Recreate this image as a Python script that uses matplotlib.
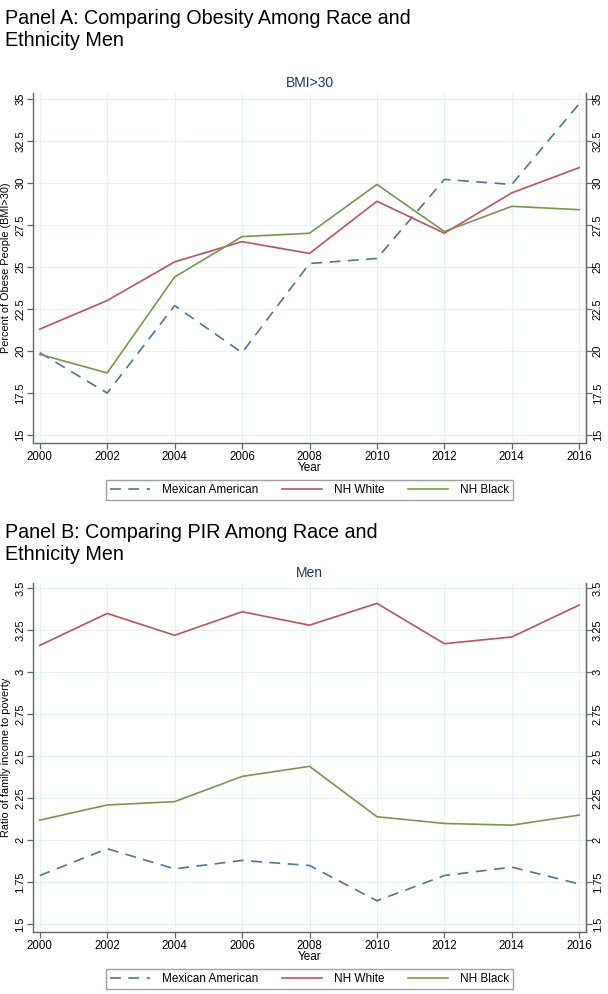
import matplotlib
matplotlib.use("Agg")
import matplotlib.pyplot as plt

plt.rcParams['font.family'] = ['Liberation Sans', 'DejaVu Sans']

years = [2000, 2002, 2004, 2006, 2008, 2010, 2012, 2014, 2016]
series_names = ["Mexican American", "NH White", "NH Black"]

# Panel A: percent obese (BMI>30)
bmi_mexican = [19.9, 17.5, 22.7, 19.9, 25.2, 25.5, 30.2, 29.9, 34.7]
bmi_white = [21.3, 23.0, 25.3, 26.5, 25.8, 28.9, 27.0, 29.4, 30.9]
bmi_black = [19.8, 18.7, 24.4, 26.8, 27.0, 29.9, 27.1, 28.6, 28.4]

# Panel B: ratio of family income to poverty
pir_mexican = [1.79, 1.95, 1.83, 1.88, 1.85, 1.64, 1.79, 1.84, 1.74]
pir_white = [3.16, 3.35, 3.22, 3.36, 3.28, 3.41, 3.17, 3.21, 3.40]
pir_black = [2.12, 2.21, 2.23, 2.38, 2.44, 2.14, 2.10, 2.09, 2.15]

bmi_ticks = [15, 17.5, 20, 22.5, 25, 27.5, 30, 32.5, 35]
bmi_ticklabels = ["15", "17.5", "20", "22.5", "25", "27.5", "30", "32.5", "35"]
pir_ticks = [1.5, 1.75, 2, 2.25, 2.5, 2.75, 3, 3.25, 3.5]
pir_ticklabels = ["1.5", "1.75", "2", "2.25", "2.5", "2.75", "3", "3.25", "3.5"]

colors = ["#4f739c", "#c0525c", "#76984a"]
styles = [(0, (6.5, 4.5)), "-", "-"]
grid_col = "#e8f1f4"
axis_col = "#666666"

fig = plt.figure(figsize=(6.08, 9.94), dpi=100)


def panel(rect, series, ticks, ticklabels, ylim, ylabel, subtitle, leg_y):
    ax = fig.add_axes(rect)
    for vals, name, c, ls in zip(series, series_names, colors, styles):
        ax.plot(years, vals, color=c, linestyle=ls, linewidth=1.2, label=name)
    ax.set_xlim(1999.8, 2016.2)
    ax.set_ylim(*ylim)
    ax.set_xticks(years)
    ax.set_yticks(ticks)
    ax.set_yticklabels(ticklabels, rotation=90, va="center")
    ax.grid(True, color=grid_col, linewidth=0.8)
    ax.set_axisbelow(True)
    ax.spines["top"].set_visible(False)
    for s in ["left", "right", "bottom"]:
        ax.spines[s].set_color(axis_col)
        ax.spines[s].set_linewidth(1.0)
    ax.tick_params(axis="x", labelsize=8.3, color=axis_col, length=4,
                   width=0.9, pad=2)
    ax.tick_params(axis="y", labelsize=8.0, color=axis_col, length=4,
                   width=0.9, pad=1.5)
    # right-hand copy of the y axis
    ax2 = ax.secondary_yaxis("right")
    ax2.set_yticks(ticks)
    ax2.set_yticklabels(ticklabels, rotation=90, va="center", fontsize=8.0)
    ax2.tick_params(color=axis_col, length=4, width=0.9, pad=1)
    ax2.spines["right"].set_color(axis_col)
    ax.set_ylabel(ylabel, fontsize=7.8)
    ax.yaxis.set_label_coords(-0.039, 0.5)
    ax.set_xlabel("Year", fontsize=8.5, labelpad=-1)
    ax.set_title(subtitle, fontsize=10, color="#1a3a60", pad=4)
    leg = ax.legend(loc="center", bbox_to_anchor=(0.5, leg_y), ncol=3,
                    fontsize=8.5, frameon=True, fancybox=False,
                    handlelength=3.4, columnspacing=2.0, borderpad=0.35,
                    handletextpad=1.0)
    leg.get_frame().set_edgecolor("#888888")
    leg.get_frame().set_linewidth(1.0)
    return ax


panel([0.0543, 0.5546, 0.9095, 0.3521],
      [bmi_mexican, bmi_white, bmi_black], bmi_ticks, bmi_ticklabels,
      (14.55, 35.35), "Percent of Obese People (BMI>30)", "BMI>30", -0.135)

panel([0.0543, 0.0627, 0.9095, 0.3511],
      [pir_mexican, pir_white, pir_black], pir_ticks, pir_ticklabels,
      (1.456, 3.533), "Ratio of family income to poverty", "Men", -0.135)

fig.text(0.008, 0.991, "Panel A: Comparing Obesity Among Race and\nEthnicity Men",
         fontsize=14.2, va="top", ha="left", linespacing=1.2)
fig.text(0.008, 0.474, "Panel B: Comparing PIR Among Race and\nEthnicity Men",
         fontsize=14.2, va="top", ha="left", linespacing=1.2)

fig.savefig("out.png", dpi=100)
